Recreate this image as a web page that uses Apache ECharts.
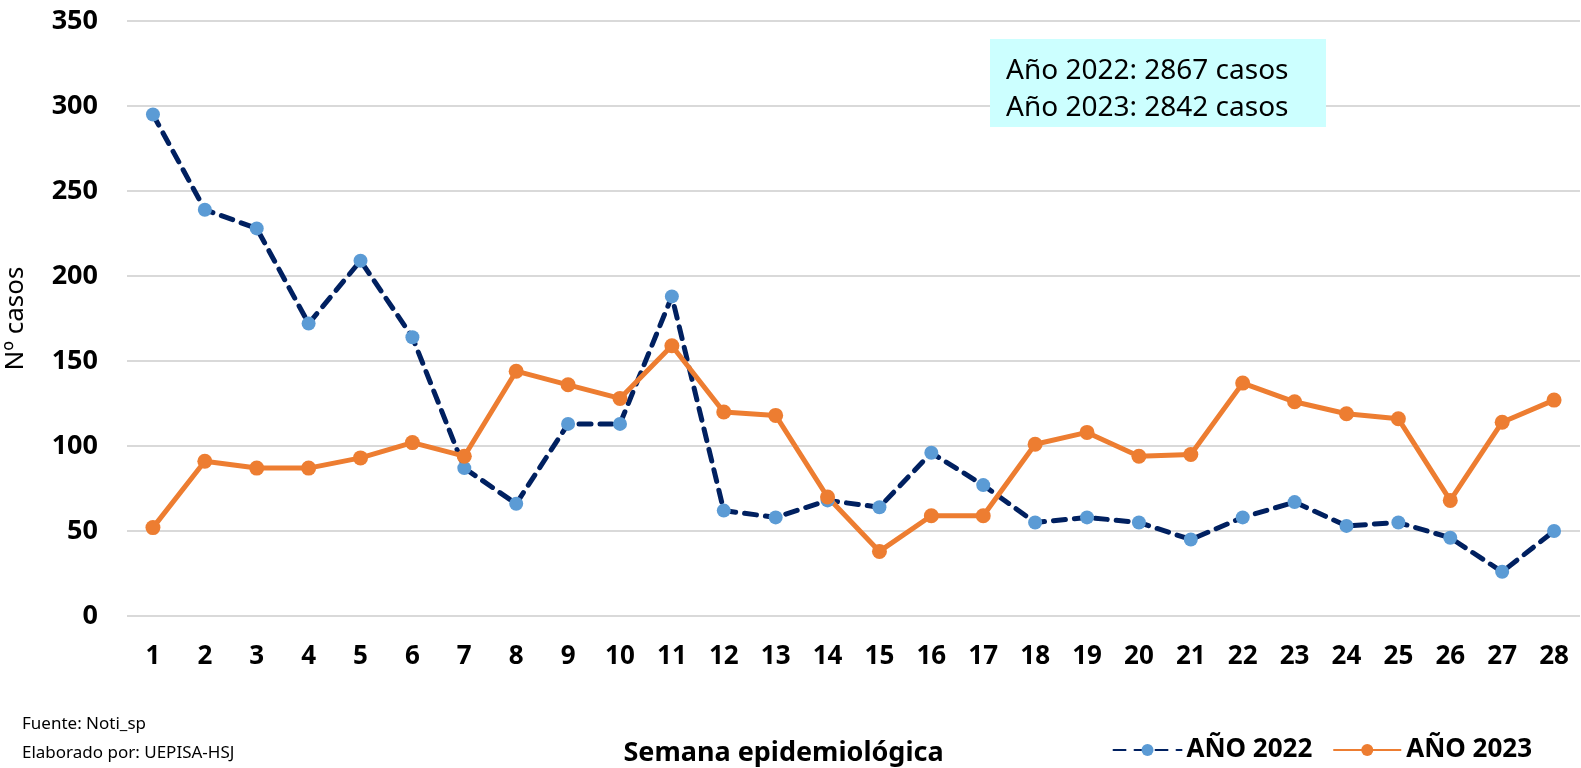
<!DOCTYPE html>
<html>
<head>
<meta charset="utf-8">
<script src="https://cdn.jsdelivr.net/npm/echarts@6/dist/echarts.min.js"></script>
<style>
  html, body { margin: 0; padding: 0; background: #fff; }
  #main { width: 1581px; height: 768px; }
</style>
</head>
<body>
<div id="main"></div>
<script>
// semanas epidemiológicas
var semanas = ['1','2','3','4','5','6','7','8','9','10','11','12','13','14',
               '15','16','17','18','19','20','21','22','23','24','25','26','27','28'];
// casos por semana
var casos2022 = [295,239,228,172,209,164,87,66,113,113,188,62,58,68,
                 64,96,77,55,58,55,45,58,67,53,55,46,26,50];
var casos2023 = [52,91,87,87,93,102,94,144,136,128,159,120,118,70,
                 38,59,59,101,108,94,95,137,126,119,116,68,114,127];
var totales = ['Año 2022: 2867 casos', 'Año 2023: 2842 casos'];

var fuente = "'Noto Sans', 'Open Sans', sans-serif";

var myChart = echarts.init(document.getElementById('main'));

var option = {
    animation: false,
    textStyle: { fontFamily: fuente },
    grid: { left: 127, right: 1, top: 21, bottom: 152, outerBoundsMode: 'none', containLabel: false },
    legend: {
        right: 44,
        bottom: 0,
        itemWidth: 68,
        itemHeight: 15,
        itemGap: 20,
        textStyle: { fontSize: 26, fontWeight: 'bold', color: '#000' },
        data: ['AÑO 2022', 'AÑO 2023']
    },
    xAxis: {
        type: 'category',
        data: semanas,
        name: 'Semana epidemiológica',
        nameLocation: 'middle',
        nameGap: 124,
        nameTextStyle: { fontSize: 27, fontWeight: 'bold', color: '#000', padding: [0, 140, 0, 0] },
        axisLine: { show: false },
        axisTick: { show: false },
        axisLabel: { fontSize: 26, fontWeight: 'bold', color: '#000', margin: 28, interval: 0 }
    },
    yAxis: {
        type: 'value',
        min: 0,
        max: 350,
        interval: 50,
        name: 'Nº casos',
        nameLocation: 'middle',
        nameGap: 98,
        nameTextStyle: { fontSize: 26, color: '#000' },
        axisLabel: { fontSize: 27, fontWeight: 'bold', color: '#000', margin: 29 },
        splitLine: { lineStyle: { color: '#d9d9d9', width: 2 } }
    },
    graphic: [
        {
            type: 'rect',
            left: 990,
            top: 39,
            shape: { width: 336, height: 88 },
            style: { fill: '#ccffff' },
            z: 10
        },
        {
            type: 'text',
            left: 1006,
            top: 53,
            style: {
                text: totales.join('\n'),
                font: '28px ' + fuente,
                lineHeight: 37,
                fill: '#000'
            },
            z: 11
        },
        {
            type: 'text',
            left: 22,
            top: 710,
            style: {
                text: 'Fuente: Noti_sp\nElaborado por: UEPISA-HSJ',
                font: '17px ' + fuente,
                lineHeight: 29,
                fill: '#000'
            }
        }
    ],
    series: [
        {
            name: 'AÑO 2022',
            type: 'line',
            data: casos2022,
            symbol: 'circle',
            symbolSize: 14,
            itemStyle: { color: '#5b9bd5' },
            lineStyle: { color: '#002060', width: 5, type: [12, 9], cap: 'round' }
        },
        {
            name: 'AÑO 2023',
            type: 'line',
            data: casos2023,
            symbol: 'circle',
            symbolSize: 15,
            itemStyle: { color: '#ed7d31' },
            lineStyle: { color: '#ed7d31', width: 5 }
        }
    ]
};

myChart.setOption(option);
</script>
</body>
</html>
